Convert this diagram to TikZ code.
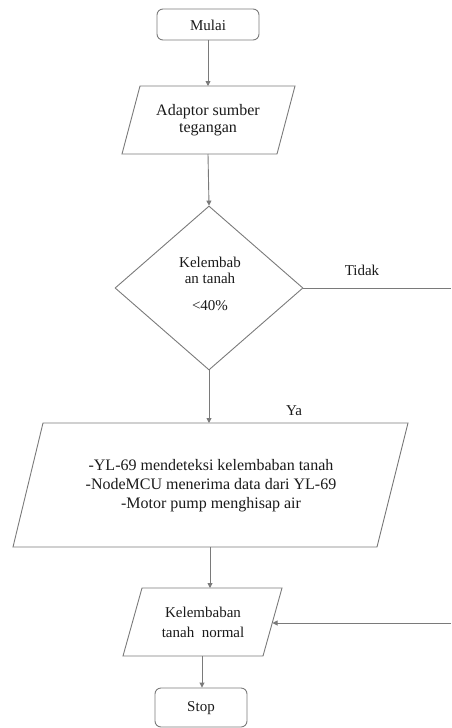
\documentclass[tikz,border=0pt]{standalone}
\usepackage{fontspec}
\setmainfont{Liberation Serif}
\usetikzlibrary{arrows.meta,shapes.geometric}
\definecolor{linegray}{HTML}{7A7A7A}
\definecolor{txt}{HTML}{1A1A1A}
\begin{document}
\begin{tikzpicture}[x=1pt,y=-1pt,
  line/.style={draw=linegray, line width=0.9pt},
  arr/.style={line, -{Triangle[length=5pt,width=5pt]}},
  term/.style={draw=linegray, line width=0.9pt, rounded corners=6pt, inner sep=0pt},
  lbl/.style={font=\fontsize{15}{17}\selectfont, text=txt, align=center, inner sep=0pt},
  shapebox/.style={draw=linegray, line width=0.9pt}]
\useasboundingbox (0,0) rectangle (451,728);

% Mulai
\node[term, minimum width=102pt, minimum height=31pt] (mulai) at (208,24.5) {};
\node[lbl] (mulaiT) at (208,25) {Mulai};

% Adaptor parallelogram
\coordinate (a1) at (140,86); \coordinate (a2) at (295,86);
\coordinate (a3) at (277,154); \coordinate (a4) at (122,154);
\draw[shapebox] (a1) -- (a2) -- (a3) -- (a4) -- cycle;
\coordinate (adTop) at (208,86);
\coordinate (adBot) at (208,154);
\node[lbl, font=\fontsize{16}{17}\selectfont] (adT) at (208,120) {Adaptor sumber\\tegangan};

% Decision diamond
\node[diamond, shapebox, minimum width=188pt, minimum height=164pt, inner sep=0pt] (dia) at (209,288) {};
\node[lbl, font=\fontsize{15}{16}\selectfont] (diaT1) at (210,270) {Kelembab\\an tanah};
\node[lbl] (diaT2) at (210,306) {<40\%};

% Tidak branch
\coordinate (tidakEnd) at (451,288);
\node[lbl] (tidak) at (362,270) {Tidak};

% Process parallelogram
\coordinate (p1) at (43,423); \coordinate (p2) at (408,423);
\coordinate (p3) at (377,547); \coordinate (p4) at (13,547);
\draw[shapebox] (p1) -- (p2) -- (p3) -- (p4) -- cycle;
\coordinate (prTop) at (209,423);
\coordinate (prBot) at (210,547);
\node[lbl, font=\fontsize{16}{19}\selectfont] (prT) at (211,486) {-YL-69 mendeteksi kelembaban tanah\\-NodeMCU menerima data dari YL-69\\-Motor pump menghisap air};
\node[lbl] (ya) at (294,411) {Ya};

% Normal parallelogram
\coordinate (n1) at (142,588); \coordinate (n2) at (282,588);
\coordinate (n3) at (263,656); \coordinate (n4) at (123,656);
\draw[shapebox] (n1) -- (n2) -- (n3) -- (n4) -- cycle;
\coordinate (nmTop) at (210,588);
\coordinate (nmBot) at (202,656);
\coordinate (nmIn) at (272.5,623);
\coordinate (retStart) at (451,623);
\node[lbl, font=\fontsize{15}{20}\selectfont] (nmT) at (203,622) {Kelembaban\\tanah\ \ normal};

% Stop
\node[term, minimum width=92pt, minimum height=39pt] (stop) at (201,707.5) {};
\node[lbl] (stopT) at (201,708) {Stop};

% Connectors
\draw[arr] (mulai.south) -- (adTop);
\draw[arr] (adBot) -- (dia.north);
\draw[line] (dia.east) -- (tidakEnd);
\draw[arr] (dia.south) -- (prTop);
\draw[arr] (prBot) -- (nmTop);
\draw[arr] (retStart) -- (nmIn);
\draw[arr] (nmBot) -- (stop.north -| nmBot);
\end{tikzpicture}
\end{document}
